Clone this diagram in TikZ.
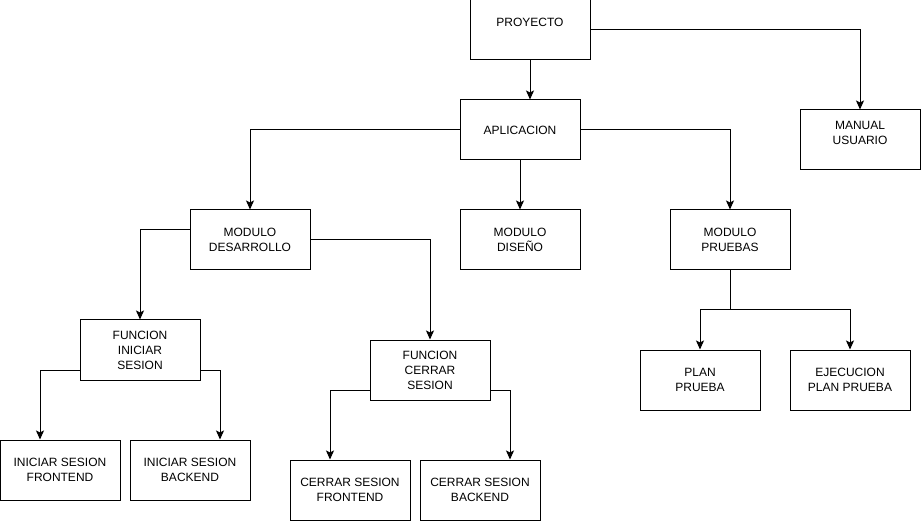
\documentclass[tikz,border=0pt]{standalone}
\usepackage{fontspec}
\setmainfont{Liberation Sans}
\usetikzlibrary{arrows.meta}

\begin{document}
\begin{tikzpicture}[
  x=1pt, y=-1pt,
  block/.style={rectangle, draw, minimum width=120pt, minimum height=60pt, inner sep=0pt, align=center},
  >={Stealth[length=9pt, width=8pt, inset=2pt]},
  line width=1pt,
  font=\fontsize{12}{15}\selectfont
]
\useasboundingbox (0,0) rectangle (921,521);

\node[block] (proyecto) at (530,30) {PROYECTO\\~};
\node[block, below of=proyecto, node distance=100pt, xshift=-10pt] (aplicacion) {APLICACION};
\node[block, right of=proyecto, node distance=330pt, yshift=-110pt] (manual) {MANUAL\\USUARIO\\~};

\node[block, below of=aplicacion, node distance=110pt] (diseno) {MODULO\\DISEÑO};
\node[block, left of=diseno, node distance=270pt] (desarrollo) {MODULO\\DESARROLLO};
\node[block, right of=diseno, node distance=210pt] (pruebas) {MODULO\\PRUEBAS};

\node[block, below of=desarrollo, node distance=110pt, xshift=-110pt] (finiciar) {FUNCION\\INICIAR\\SESION};
\node[block, below of=finiciar, node distance=120pt, xshift=-80pt] (isfront) {INICIAR SESION\\FRONTEND};
\node[block, right of=isfront, node distance=130pt] (isback) {INICIAR SESION\\BACKEND};

\node[block, right of=finiciar, node distance=290pt, yshift=-20pt] (fcerrar) {FUNCION\\CERRAR\\SESION};
\node[block, below of=fcerrar, node distance=120pt, xshift=-80pt] (csfront) {CERRAR SESION\\FRONTEND};
\node[block, right of=csfront, node distance=130pt] (csback) {CERRAR SESION\\BACKEND};

\node[block, below of=pruebas, node distance=140pt, xshift=-30pt] (plan) {PLAN\\PRUEBA};
\node[block, right of=plan, node distance=150pt] (ejecucion) {EJECUCION\\PLAN PRUEBA};

\coordinate[below of=pruebas, node distance=70pt] (split);

\draw[->] (proyecto.south) -- (proyecto.south |- aplicacion.north);
\draw[->] (proyecto.east) -| (manual.north);
\draw[->] (aplicacion.west) -| (desarrollo.north);
\draw[->] (aplicacion) -- (diseno);
\draw[->] (aplicacion.east) -| (pruebas.north);
\draw[->] ([yshift=10pt]desarrollo.west) -| (finiciar.north);
\draw[->] (desarrollo.east) -| (fcerrar.north);
\draw[->] ([yshift=-20pt]finiciar.west) -| ([xshift=-20pt]isfront.north);
\draw[->] ([yshift=-20pt]finiciar.east) -| ([xshift=30pt]isback.north);
\draw[->] ([yshift=-20pt]fcerrar.west) -| ([xshift=-20pt]csfront.north);
\draw[->] ([yshift=-20pt]fcerrar.east) -| ([xshift=30pt]csback.north);
\draw[->] (pruebas.south) -- (split) -| (plan.north);
\draw[->] (split) -| (ejecucion.north);
\end{tikzpicture}
\end{document}
